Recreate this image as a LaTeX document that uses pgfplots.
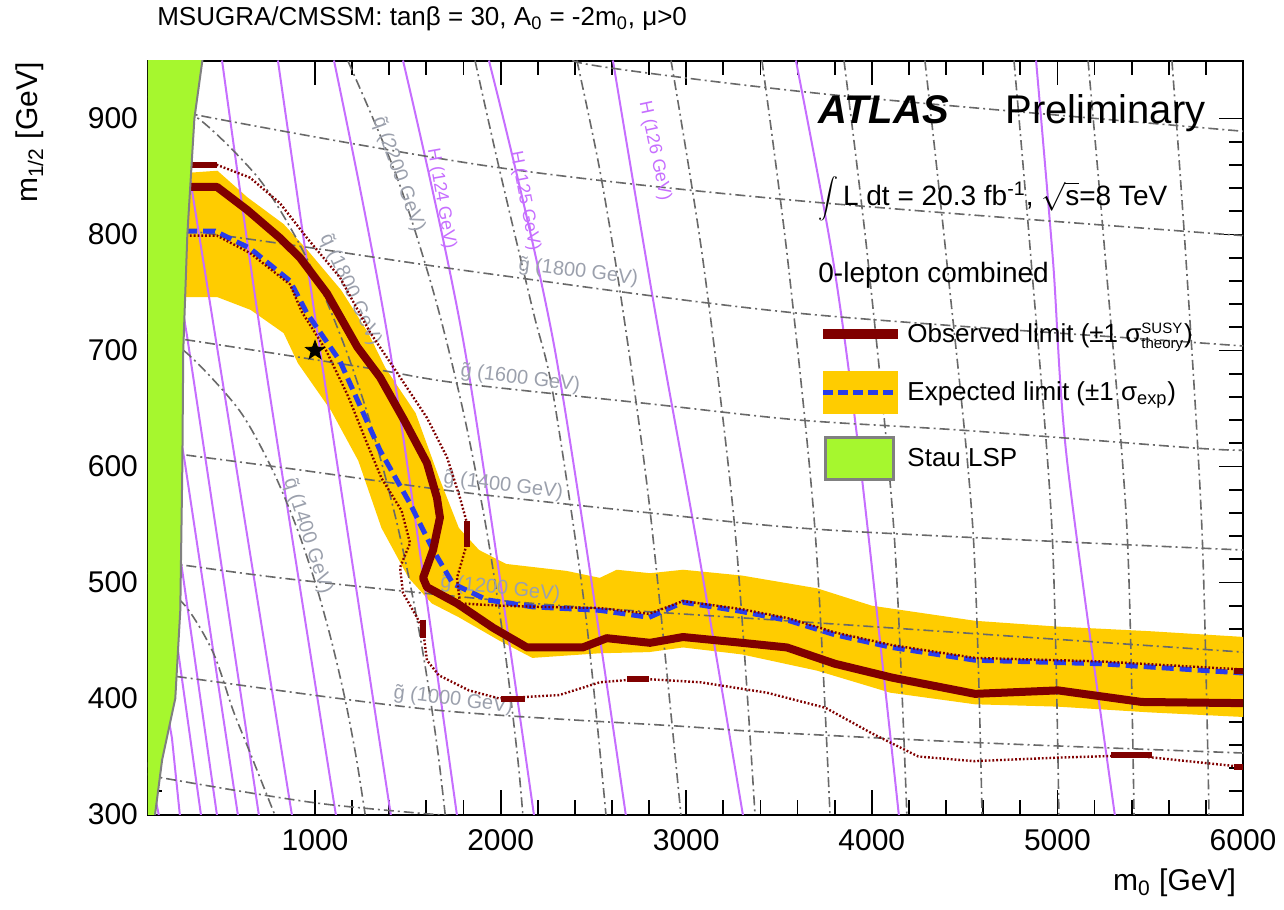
\documentclass[border=0pt]{standalone}
\usepackage{fontspec}
\setmainfont{Liberation Sans}
\usepackage{pgfplots}
\pgfplotsset{compat=1.18}

\definecolor{obsred}{RGB}{128,0,0}
\definecolor{bandyellow}{RGB}{255,204,0}
\definecolor{expblue}{RGB}{40,60,235}
\definecolor{staugreen}{RGB}{166,247,46}
\definecolor{higgs}{RGB}{198,110,255}
\definecolor{sqgray}{RGB}{105,105,105}
\definecolor{lblgray}{RGB}{155,160,172}

\tikzset{
  sq/.style={color=sqgray, line width=0.8pt, dash pattern=on 5pt off 2pt on 1pt off 2pt},
  hl/.style={color=higgs, line width=1pt},
  lbl/.style={text=lblgray, font=\fontsize{10}{12}\selectfont, inner sep=1pt},
  hlbl/.style={text=higgs, font=\fontsize{9}{11}\selectfont, inner sep=1pt},
  thdot/.style={color=obsred, line width=1.2pt, dash pattern=on 0.9pt off 1pt},
}

% filled five-point star
\pgfdeclareplotmark{fstar}{%
  \pgfpathmoveto{\pgfpointpolar{90}{\pgfplotmarksize}}%
  \pgfpathlineto{\pgfpointpolar{126}{0.42\pgfplotmarksize}}%
  \pgfpathlineto{\pgfpointpolar{162}{\pgfplotmarksize}}%
  \pgfpathlineto{\pgfpointpolar{198}{0.42\pgfplotmarksize}}%
  \pgfpathlineto{\pgfpointpolar{234}{\pgfplotmarksize}}%
  \pgfpathlineto{\pgfpointpolar{270}{0.42\pgfplotmarksize}}%
  \pgfpathlineto{\pgfpointpolar{306}{\pgfplotmarksize}}%
  \pgfpathlineto{\pgfpointpolar{342}{0.42\pgfplotmarksize}}%
  \pgfpathlineto{\pgfpointpolar{18}{\pgfplotmarksize}}%
  \pgfpathlineto{\pgfpointpolar{54}{0.42\pgfplotmarksize}}%
  \pgfpathclose\pgfusepathqfillstroke}

\begin{document}
\begin{tikzpicture}
\begin{axis}[
  name=ax,
  scale only axis,
  width=547.5pt, height=377pt,
  xmin=100, xmax=6000, ymin=300, ymax=950,
  xtick={1000,2000,3000,4000,5000,6000},
  ytick={300,400,500,600,700,800,900},
  minor x tick num=4, minor y tick num=4,
  tick pos=both, tick align=inside,
  major tick length=12pt, minor tick length=7pt,
  tick style={black, line width=0.9pt},
  axis line style={line width=1pt},
  scaled ticks=false,
  /pgf/number format/assume math mode=true,
  /pgf/number format/1000 sep={},
  ticklabel style={font=\fontsize{15}{18}\selectfont},
  xticklabel style={yshift=-4pt},
  yticklabel style={xshift=-1.5pt},
  xlabel={m\textsubscript{0} [GeV]},
  xlabel style={at={(axis description cs:1,0)}, anchor=base east, yshift=-38pt, font=\fontsize{15}{18}\selectfont},
  ylabel={m\textsubscript{1/2} [GeV]},
  ylabel style={at={(axis description cs:-0.1078,1.0066)}, anchor=east, font=\fontsize{15}{18}\selectfont},
  title={MSUGRA/CMSSM: tanβ = 30, A\textsubscript{0} = -2m\textsubscript{0}, μ>0},
  title style={at={(axis description cs:0.002,1)}, anchor=base west, yshift=11.5pt, font=\fontsize{13}{15}\selectfont},
  legend style={at={(axis description cs:0.6119,0.6574)}, anchor=north west, draw=none, fill=none,
    font=\fontsize{13}{15}\selectfont, row sep=11pt, column sep=0pt, inner sep=0pt},
  legend cell align=left,
]

% expected +-1 sigma band
\addplot[fill=bandyellow, draw=none, forget plot] coordinates {
  (300,853) (474,855) (636,832) (831,809) (962,786) (1141,752) (1287,715) (1379,685)
  (1542,646) (1667,591) (1775,547) (1884,528) (2030,516) (2355,510) (2534,504) (2626,511)
  (2805,508) (2983,511) (3300,506) (3705,495) (4000,480) (4556,467) (5000,462) (5500,458) (6010,453)
  (6010,384) (5500,388) (5000,393) (4556,395) (4100,405) (3705,424) (3300,438) (2983,444)
  (2800,440) (2535,439) (2171,435) (1992,450) (1775,470) (1629,482) (1504,504) (1358,547)
  (1233,605) (1087,648) (908,689) (831,715) (653,735) (474,746) (300,746)
};

% Higgs mass contours
\addplot[hl, smooth, forget plot] coordinates {(499,950) (720,700) (1113,299)};
\addplot[hl, smooth, forget plot] coordinates {(800,950) (1027,700) (1409,299)};
\addplot[hl, smooth, forget plot] coordinates {(1102,950) (1404,700) (1765,299)};
\addplot[hl, smooth, forget plot] coordinates {(1474,950) (1808,700) (2180,299)};
\addplot[hl, smooth, forget plot] coordinates {(1937,950) (2293,700) (2675,299)};
\addplot[hl, smooth, forget plot] coordinates {(2605,950) (2832,734) (3074,519) (3306,299)};
\addplot[hl, smooth, forget plot] coordinates {(3591,950) (3791,778) (3936,605) (4146,299)};
\addplot[hl, smooth, forget plot] coordinates {(4885,950) (4976,778) (5052,605) (5310,299)};
\addplot[hl, forget plot] coordinates {(250,920) (326,849) (876,299)};
\addplot[hl, forget plot] coordinates {(240,780) (310,713) (698,299)};
\addplot[hl, forget plot] coordinates {(230,670) (299,603) (585,299)};
\addplot[hl, forget plot] coordinates {(220,575) (283,512) (472,299)};
\addplot[hl, forget plot] coordinates {(200,500) (262,441) (386,299)};
\addplot[hl, forget plot] coordinates {(170,420) (229,366) (272,299)};
\addplot[hl, forget plot] coordinates {(100,345) (159,299)};

% squark mass contours
\addplot[sq, smooth, forget plot] coordinates {(100,508) (300,480) (450,440) (558,390) (633,360) (785,299)};
\addplot[sq, smooth, forget plot] coordinates {(100,715) (300,699) (585,650) (762,600) (895,550) (1001,500) (1088,450) (1161,400) (1221,350) (1271,299)};
\addplot[sq, smooth, forget plot] coordinates {(100,919) (371,900) (688,850) (888,800) (1042,750) (1168,700) (1274,650) (1364,600) (1443,550) (1511,500) (1570,450) (1621,400) (1665,350) (1702,299)};
\addplot[sq, smooth, forget plot] coordinates {(1078,980) (1176,950) (1440,850) (1639,750) (1795,650) (1919,550) (2016,450) (2091,350) (2120,299)};
\addplot[sq, smooth, forget plot] coordinates {(1862,950) (1991,858) (2174,734.5) (2282,663) (2455,476) (2568,299)};
\addplot[sq, smooth, forget plot] coordinates {(2411,950) (2535,855) (2659,734.5) (2805,562) (2972,299)};
\addplot[sq, smooth, forget plot] coordinates {(2918,950) (3090,778) (3263,545) (3371,299)};
\addplot[sq, smooth, forget plot] coordinates {(3408,950) (3547,778) (3694,545) (3775,299)};
\addplot[sq, smooth, forget plot] coordinates {(3850,950) (3979,778) (4119,545) (4189,299)};
\addplot[sq, smooth, forget plot] coordinates {(4286,950) (4403,778) (4545,545) (4594,299)};
\addplot[sq, smooth, forget plot] coordinates {(4766,950) (4858,778) (4971,545) (5008,299)};
\addplot[sq, smooth, forget plot] coordinates {(5165,950) (5259,778) (5375,545) (5413,299)};
\addplot[sq, smooth, forget plot] coordinates {(5617,950) (5693,778) (5779,545) (5817,299)};

% gluino mass contours
\addplot[sq, smooth, forget plot] coordinates {(2300,960) (2428,948) (3020,934.5) (3753,921) (4637,908) (6000,889)};
\addplot[sq, smooth, forget plot] coordinates {(250,912) (364,903) (1975,858) (3613,829) (6000,799)};
\addplot[sq, smooth, forget plot] coordinates {(200,805) (326,803) (957,789) (1943,766) (3613,732) (5731,707) (6000,704)};
\addplot[sq, smooth, forget plot] coordinates {(200,711) (316,709) (1280,685) (1765,672) (2805,654) (3613,640) (4513,631) (5731,616) (6000,614)};
\addplot[sq, smooth, forget plot] coordinates {(200,612) (299,610) (919,597) (1781,578) (2805,560) (3791,545) (6000,528)};
\addplot[sq, smooth, forget plot] coordinates {(200,517) (289,515) (919,502) (2174,482) (3726,465) (6000,440)};
\addplot[sq, smooth, forget plot] coordinates {(200,420) (299,418) (1652,390) (2977,376) (3435,371) (4556,362) (6000,353)};
\addplot[sq, smooth, forget plot] coordinates {(100,335) (197,331) (1027,309.5) (1840,297.5)};

% contour labels
\node[lbl, rotate=-7, anchor=south west] at (axis cs:2077,764) {\~{g} (1800 GeV)};
\node[lbl, rotate=-7, anchor=south west] at (axis cs:1765,672) {\~{g} (1600 GeV)};
\node[lbl, rotate=-7, anchor=south west] at (axis cs:1673,580) {\~{g} (1400 GeV)};
\node[lbl, rotate=-6, anchor=south west] at (axis cs:1657,490) {\~{g} (1200 GeV)};
\node[lbl, rotate=-7, anchor=south west] at (axis cs:1404,395) {\~{g} (1000 GeV)};
\node[lbl, rotate=-70] at (axis cs:1450,852) {\~{q} (2200 GeV)};
\node[lbl, rotate=-65] at (axis cs:1190,752) {\~{q} (1800 GeV)};
\node[lbl, rotate=-72] at (axis cs:960,540) {\~{q} (1400 GeV)};
\node[hlbl, rotate=-80] at (axis cs:1680,831) {H (124 GeV)};
\node[hlbl, rotate=-79] at (axis cs:2130,829) {H (125 GeV)};
\node[hlbl, rotate=-78] at (axis cs:2830,872) {H (126 GeV)};

% expected limit
\addplot[expblue, line width=2.5pt, dash pattern=on 6pt off 3pt, forget plot] coordinates {
  (300,803) (461,803) (650,788) (865,760) (957,732) (1134,691) (1350,614) (1512,568)
  (1636,528) (1743,499) (1927,485) (2174,479) (2535,476) (2800,470) (2983,483) (3300,475)
  (3556,467) (3800,455) (4109,444) (4556,433) (5229,430) (6000,422)
};

% observed +-1 sigma theory
\addplot[thdot, forget plot] coordinates {
  (326,860) (472,860) (650,849) (811,827) (957,797) (1134,763) (1295,716) (1458,677)
  (1603,642) (1711,608) (1781,573) (1819,551) (1819,534) (1765,504) (1781,482) (2000,480)
  (2212,479) (2535,478) (2800,473) (2983,484) (3300,477) (3556,469) (3800,457) (4109,446)
  (4556,435) (5229,432) (6000,425)
};
\addplot[thdot, forget plot] coordinates {
  (326,799) (472,799) (650,784) (865,757) (930,733) (1060,700) (1180,660) (1280,620)
  (1358,590) (1466,562) (1512,534) (1458,513) (1474,491) (1549,470) (1582,459) (1603,433)
  (1667,420) (1829,407) (1992,400) (2317,403) (2535,414) (2762,417) (3076,414) (3435,405)
  (3750,392) (4000,370) (4250,350) (4550,346) (5000,349) (5400,351) (6000,341)
};
\addplot[obsred, line width=3pt, forget plot] coordinates {(326,860) (472,860)};
\addplot[obsred, line width=3pt, forget plot] coordinates {(1819,553) (1819,531)};
\addplot[obsred, line width=3pt, forget plot] coordinates {(1582,468) (1582,452)};
\addplot[obsred, line width=3pt, forget plot] coordinates {(2000,400) (2130,400)};
\addplot[obsred, line width=3pt, forget plot] coordinates {(2680,417) (2800,417)};
\addplot[obsred, line width=3pt, forget plot] coordinates {(5290,351) (5510,351)};
\addplot[obsred, line width=3pt, forget plot] coordinates {(5950,341) (6000,341)};
\addplot[obsred, line width=3pt, forget plot] coordinates {(5950,424) (6000,424)};

% observed limit
\addplot[obsred, line width=4pt, line join=round, forget plot] coordinates {
  (300,841) (472,841) (636,821) (811,797) (919,780) (1065,749) (1228,703) (1350,677)
  (1480,640) (1603,603) (1657,573) (1673,556) (1636,528) (1582,504) (1603,496) (1765,482)
  (1959,461) (2142,444) (2442,444) (2572,452) (2805,448) (2983,453) (3300,448) (3543,444)
  (3800,430) (4109,418) (4556,404) (5003,407) (5455,397) (6000,396)
};

% stau LSP region
\addplot[fill=staugreen, draw=gray, line width=1pt, forget plot] coordinates {
  (50,290) (133,290) (138,300) (176,347) (247,400) (274,476) (285,600) (290,700)
  (312,800) (350,900) (393,950) (400,960) (50,960) (50,290)
};

% benchmark point
\addplot[only marks, mark=fstar, mark size=5pt, black, forget plot] coordinates {(1000,700)};

% texts
\node[anchor=base west, inner sep=0pt, font=\fontsize{20}{24}\selectfont\bfseries\itshape] at (rel axis cs:0.6119,0.9164) {ATLAS};
\node[anchor=base west, inner sep=0pt, font=\fontsize{20}{24}\selectfont] at (rel axis cs:0.7826,0.9164) {Preliminary};
\node[anchor=base west, inner sep=0pt, font=\fontsize{14}{17}\selectfont] at (rel axis cs:0.6119,0.8077) {$\displaystyle\int$\,L dt = 20.3 fb\textsuperscript{-1}, $\sqrt{\mbox{s}}$=8 TeV};
\node[anchor=base west, inner sep=0pt, font=\fontsize{14}{17}\selectfont] at (rel axis cs:0.6119,0.7056) {0-lepton combined};

% legend
\addlegendimage{legend image code/.code={\draw[obsred, line width=5pt] (0pt,0pt) -- (37.5pt,0pt);}}
\addlegendentry{Observed limit (±1 σ$^{\mbox{\fontsize{7.5}{8}\selectfont SUSY}}_{\mbox{\fontsize{7.5}{8}\selectfont theory}}$)}
\addlegendimage{legend image code/.code={\fill[bandyellow] (0pt,-10.5pt) rectangle (37pt,10.5pt); \draw[expblue, line width=2.5pt, dash pattern=on 5pt off 2.5pt] (0pt,0pt) -- (37pt,0pt);}}
\addlegendentry{Expected limit (±1 σ\textsubscript{exp})}
\addlegendimage{legend image code/.code={\draw[fill=staugreen, draw=gray, line width=1.6pt] (1pt,-10.5pt) rectangle (35pt,10.5pt);}}
\addlegendentry{Stau LSP}
\end{axis}
\path[use as bounding box] (ax.south west) ++(-74pt,-47.5pt) rectangle ++(642pt,449.5pt);
\end{tikzpicture}
\end{document}
